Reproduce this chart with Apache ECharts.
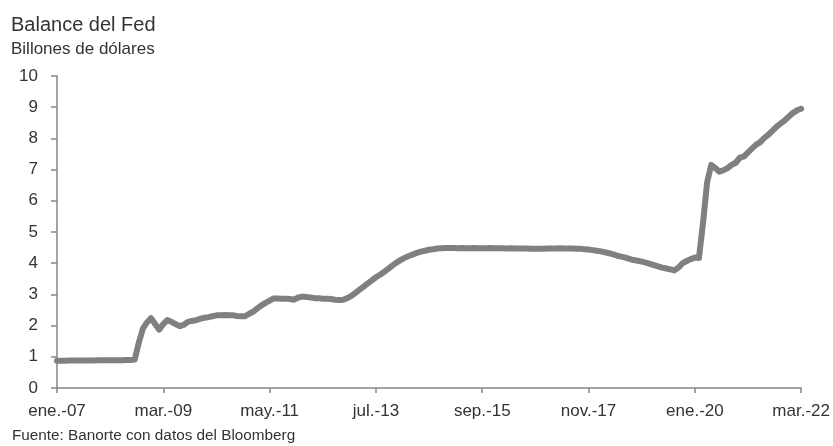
<!DOCTYPE html>
<html>
<head>
<meta charset="utf-8">
<title>Balance del Fed</title>
<script src="https://cdn.jsdelivr.net/npm/echarts@6/dist/echarts.min.js"></script>
<style>
    html, body { margin: 0; padding: 0; background: #ffffff; }
    #chart { width: 833px; height: 446px; }
</style>
</head>
<body>
<div id="chart"></div>
<script>
// Month abbreviations used for the category labels
const monthNames = ['ene', 'feb', 'mar', 'abr', 'may', 'jun', 'jul', 'ago', 'sep', 'oct', 'nov', 'dic'];
const startYear = 2007;

// Fed balance sheet, trillions of dollars, monthly from ene.-07 to mar.-22
const balance2007 = [0.87, 0.87, 0.87, 0.88, 0.88, 0.88, 0.88, 0.88, 0.88, 0.88, 0.89, 0.89];
const balance2008 = [0.89, 0.89, 0.89, 0.89, 0.89, 0.90, 0.90, 0.91, 1.45, 1.90, 2.10, 2.24];
const balance2009 = [2.05, 1.87, 2.05, 2.18, 2.12, 2.05, 1.98, 2.02, 2.12, 2.15, 2.17, 2.22];
const balance2010 = [2.25, 2.27, 2.30, 2.33, 2.33, 2.34, 2.33, 2.33, 2.31, 2.30, 2.30, 2.38];
const balance2011 = [2.45, 2.55, 2.65, 2.73, 2.80, 2.87, 2.87, 2.86, 2.86, 2.85, 2.83, 2.90];
const balance2012 = [2.93, 2.92, 2.90, 2.88, 2.88, 2.86, 2.86, 2.85, 2.83, 2.82, 2.83, 2.88];
const balance2013 = [2.95, 3.05, 3.15, 3.25, 3.35, 3.45, 3.55, 3.63, 3.72, 3.82, 3.92, 4.02];
const balance2014 = [4.10, 4.17, 4.23, 4.28, 4.33, 4.37, 4.40, 4.43, 4.45, 4.47, 4.48, 4.49];
const balance2015 = [4.49, 4.49, 4.48, 4.49, 4.48, 4.48, 4.49, 4.48, 4.48, 4.48, 4.49, 4.48];
const balance2016 = [4.48, 4.48, 4.47, 4.48, 4.47, 4.47, 4.47, 4.47, 4.46, 4.46, 4.46, 4.46];
const balance2017 = [4.47, 4.47, 4.47, 4.48, 4.47, 4.47, 4.47, 4.46, 4.46, 4.45, 4.44, 4.42];
const balance2018 = [4.40, 4.38, 4.35, 4.32, 4.28, 4.24, 4.21, 4.18, 4.14, 4.10, 4.08, 4.05];
const balance2019 = [4.02, 3.98, 3.94, 3.90, 3.86, 3.83, 3.80, 3.77, 3.86, 4.00, 4.07, 4.13];
const balance2020 = [4.18, 4.17, 5.30, 6.60, 7.15, 7.05, 6.93, 6.98, 7.05, 7.15, 7.22, 7.38];
const balance2021 = [7.42, 7.55, 7.68, 7.80, 7.88, 8.02, 8.12, 8.25, 8.38, 8.48, 8.58, 8.70];
const balance2022 = [8.82, 8.90, 8.95];

const balanceValues = [].concat(
    balance2007, balance2008, balance2009, balance2010, balance2011, balance2012,
    balance2013, balance2014, balance2015, balance2016, balance2017, balance2018,
    balance2019, balance2020, balance2021, balance2022
);

// Build the category labels, e.g. "ene.-07"
const categories = balanceValues.map((v, i) => {
    const year = startYear + Math.floor(i / 12);
    return monthNames[i % 12] + '.-' + String(year).slice(2);
});

const yTicks = { min: 0, max: 10, step: 1 };
const labelEvery = 26; // months between x-axis labels

const fontFamily = '"Liberation Sans", Arial, sans-serif';
const textColor = '#333333';
const axisColor = '#868686';

const chart = echarts.init(document.getElementById('chart'));

const option = {
    animation: false,
    textStyle: { fontFamily: fontFamily },
    title: [
        {
            text: 'Balance del Fed',
            left: 11,
            top: 15,
            padding: 0,
            textStyle: { fontFamily: fontFamily, fontSize: 20, fontWeight: 'normal', color: textColor }
        },
        {
            text: 'Billones de dólares',
            left: 11,
            top: 41,
            padding: 0,
            textStyle: { fontFamily: fontFamily, fontSize: 17, fontWeight: 'normal', color: textColor }
        },
        {
            text: 'Fuente: Banorte con datos del Bloomberg',
            left: 12,
            top: 428,
            padding: 0,
            textStyle: { fontFamily: fontFamily, fontSize: 15.3, fontWeight: 'normal', color: textColor }
        }
    ],
    grid: {
        left: 57,
        right: 31,
        top: 76,
        bottom: 58,
        containLabel: false
    },
    xAxis: {
        type: 'category',
        data: categories,
        boundaryGap: false,
        axisLine: { lineStyle: { color: axisColor, width: 1.5 } },
        axisTick: {
            show: true,
            interval: labelEvery - 1,
            length: 5,
            lineStyle: { color: axisColor, width: 1.5 }
        },
        axisLabel: {
            interval: labelEvery - 1,
            margin: 15,
            fontSize: 17,
            color: textColor,
            fontFamily: fontFamily
        },
        splitLine: { show: false }
    },
    yAxis: {
        type: 'value',
        min: yTicks.min,
        max: yTicks.max,
        interval: yTicks.step,
        axisLine: { show: true, lineStyle: { color: axisColor, width: 1.5 } },
        axisTick: { show: true, length: 6, lineStyle: { color: axisColor, width: 1.5 } },
        axisLabel: {
            margin: 19,
            fontSize: 17,
            color: textColor,
            fontFamily: fontFamily
        },
        splitLine: { show: false }
    },
    series: [
        {
            name: 'Balance del Fed',
            type: 'line',
            data: balanceValues,
            showSymbol: false,
            symbol: 'none',
            lineStyle: { color: '#808080', width: 6, cap: 'round', join: 'round' },
            itemStyle: { color: '#808080' }
        }
    ]
};

chart.setOption(option);
</script>
</body>
</html>
